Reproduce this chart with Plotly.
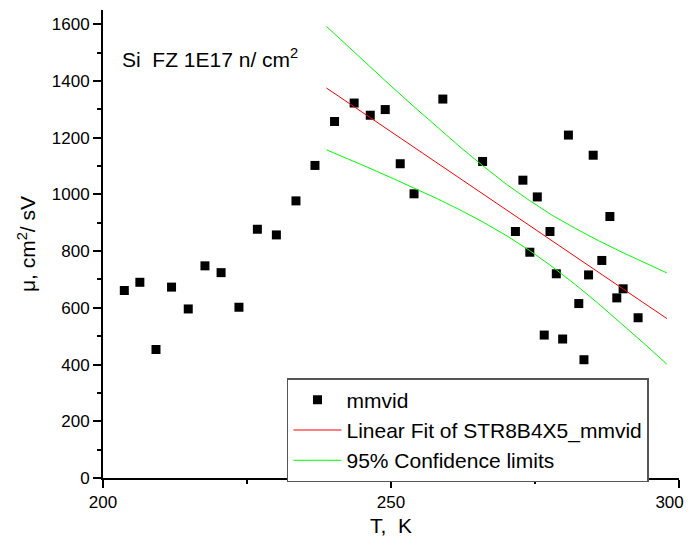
import plotly.graph_objects as go

# Measured data (T in K, mobility in cm^2/Vs)
T_data = [203.7, 206.4, 209.2, 211.9, 214.8, 217.7, 220.5, 223.6, 226.8, 230.1,
          233.5, 236.8, 240.2, 243.6, 246.4, 249.0, 251.6, 254.0, 259.0, 265.9,
          272.9, 275.4, 280.8, 285.1, 288.0, 271.6, 277.6, 274.1, 286.6, 278.7,
          284.3, 290.3, 289.2, 282.6, 292.9, 276.6, 279.8, 283.5]
mu_data = [661, 690, 453, 673, 596, 748, 724, 602, 877, 857,
           977, 1102, 1257, 1322, 1279, 1299, 1108, 1002, 1336, 1116,
           1050, 991, 1209, 1138, 922, 869, 869, 796, 767, 720,
           716, 667, 635, 615, 565, 504, 490, 417]

# Linear fit line (read endpoints)
T_fit = [238.8, 297.9]
mu_fit = [1375, 562]

# 95% confidence limits
T_conf = [238.8, 242, 246, 250, 254, 258, 262, 266, 270, 274, 278, 282, 286, 290, 294, 297.9]
mu_upper = [1592, 1531, 1456, 1382, 1309, 1237, 1167, 1100, 1036, 979, 926, 880, 837, 797, 759, 723]
mu_lower = [1157, 1130, 1095, 1059, 1023, 985, 945, 902, 855, 803, 745, 682, 615, 545, 473, 401]

# Axis ticks
x_tickvals = [200, 250, 300]
x_ticktext = ["200", "250", "300\u00a0\u00a0\u00a0\u00a0"]  # padding keeps the last label inside the page
y_tickvals = [0, 200, 400, 600, 800, 1000, 1200, 1400, 1600]

FONT = "Arial, Liberation Sans, sans-serif"

fig = go.Figure()
fig.add_trace(go.Scatter(x=T_data, y=mu_data, mode="markers", name="mmvid",
                         marker=dict(symbol="square", size=9, color="black",
                                     line=dict(width=0))))
fig.add_trace(go.Scatter(x=T_fit, y=mu_fit, mode="lines",
                         name="Linear Fit of STR8B4X5_mmvid",
                         line=dict(color="#FF0000", width=1)))
fig.add_trace(go.Scatter(x=T_conf, y=mu_upper, mode="lines",
                         name="95% Confidence limits", legendgroup="conf",
                         line=dict(color="#00FF00", width=1)))
fig.add_trace(go.Scatter(x=T_conf, y=mu_lower, mode="lines",
                         name="95% Confidence limits", legendgroup="conf",
                         showlegend=False,
                         line=dict(color="#00FF00", width=1)))

# page body adds an 8px offset; figure sized so the plot area lands where the reference has it
fig.update_layout(
    width=685, height=529,
    margin=dict(l=95, r=14, t=2, b=59, autoexpand=False),
    paper_bgcolor="white", plot_bgcolor="white",
    font=dict(family=FONT, color="black", size=17),
    showlegend=True,
    legend=dict(x=0.3194, y=0.2136, xanchor="left", yanchor="top",
                bgcolor="white", bordercolor="#555555", borderwidth=1.5,
                font=dict(family=FONT, size=21, color="black"),
                itemwidth=48, tracegroupgap=0),
    xaxis=dict(range=[200, 300], tickvals=x_tickvals, ticktext=x_ticktext,
               ticks="outside", ticklen=8, tickwidth=1.5, tickcolor="black",
               showline=True, linecolor="black", linewidth=2,
               showgrid=False, zeroline=False, automargin=False,
               ticklabeloverflow="allow",
               minor=dict(tickvals=[225, 275], ticks="outside", ticklen=4,
                          tickwidth=1.5, tickcolor="black"),
               tickfont=dict(size=17),
               title=dict(text="T,  K", font=dict(size=21), standoff=14)),
    yaxis=dict(range=[0, 1650], tickvals=y_tickvals,
               ticks="outside", ticklen=8, tickwidth=1.5, tickcolor="black",
               showline=True, linecolor="black", linewidth=2,
               showgrid=False, zeroline=False, automargin=False,
               ticklabeloverflow="allow",
               minor=dict(dtick=100, ticks="outside", ticklen=4,
                          tickwidth=1.5, tickcolor="black"),
               tickfont=dict(size=17),
               title=dict(text="μ, cm<sup>2</sup>/ sV", font=dict(size=21), standoff=10)),
    annotations=[dict(text="Si  FZ 1E17 n/ cm<sup>2</sup>", x=0.0295, y=0.897,
                      xref="paper", yref="paper", xanchor="left", yanchor="middle",
                      showarrow=False, font=dict(family=FONT, size=21, color="black"))],
)

fig.write_html("out.html")
